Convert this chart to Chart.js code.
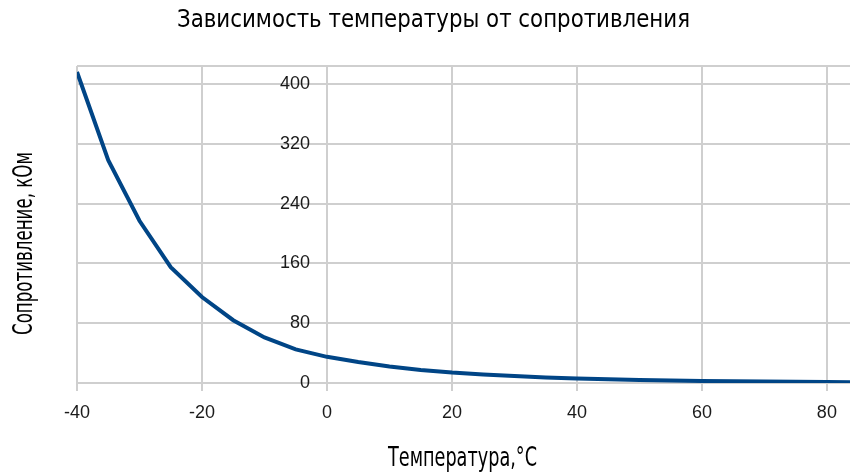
<!DOCTYPE html>
<html>
<head>
<meta charset="utf-8">
<script src="https://cdn.jsdelivr.net/npm/chart.js@4"></script>
<style>
  html, body { margin: 0; padding: 0; background: #ffffff; overflow: hidden; }
  canvas { display: block; }
</style>
</head>
<body>
<canvas id="c" width="850" height="475"></canvas>
<script>
// ---- data ----
const chartTitle = 'Зависимость температуры от сопротивления';
const xTitle = 'Температура,°C';
const yTitle = 'Сопротивление, кОм';
const temperatures = [-40, -35, -30, -25, -20, -15, -10, -5, 0, 5, 10, 15, 20, 25, 30, 35, 40, 45, 50, 55, 60, 65, 70, 75, 80, 85];
const resistances  = [416, 298, 217, 155, 115, 84, 61, 45, 35, 28, 22, 17.5, 14, 11.5, 9.2, 7.5, 6.0, 5.0, 4.1, 3.4, 2.8, 2.3, 1.9, 1.6, 1.3, 1.1];
const xTickValues = [-40, -20, 0, 20, 40, 60, 80];
const yTickValues = [0, 80, 160, 240, 320, 400];

const narrowFont = "'DejaVu Sans Condensed', 'Liberation Sans Narrow', sans-serif";
const tickFont = "'Liberation Sans', Arial, sans-serif";
const gridColor = '#cfcfcf';

const points = temperatures.map((t, i) => ({ x: t, y: resistances[i] }));

// draws a text squeezed horizontally to a target width (narrow drafting-style lettering)
function drawNarrow(ctx, text, size, cx, baseY, targetWidth, rotate) {
  ctx.save();
  ctx.font = size + 'px ' + narrowFont;
  const w = ctx.measureText(text).width;
  const sx = Math.min(1, targetWidth / w);
  ctx.translate(cx, baseY);
  if (rotate) ctx.rotate(-Math.PI / 2);
  ctx.scale(sx, 1);
  ctx.fillStyle = '#000000';
  ctx.textAlign = 'center';
  ctx.textBaseline = 'alphabetic';
  ctx.fillText(text, 0, 0);
  ctx.restore();
}

const titlesPlugin = {
  id: 'titlesPlugin',
  afterDraw(chart) {
    const ctx = chart.ctx;
    drawNarrow(ctx, chartTitle, 25, 433.5, 26.5, 513, false);
    drawNarrow(ctx, xTitle, 27, 462.5, 466, 149, false);
    drawNarrow(ctx, yTitle, 27, 31.5, 243.5, 183, true);
  }
};

new Chart(document.getElementById('c'), {
  type: 'line',
  data: {
    datasets: [{
      data: points,
      borderColor: '#004586',
      backgroundColor: '#004586',
      borderWidth: 4,
      pointRadius: 0,
      tension: 0,
      fill: false
    }]
  },
  options: {
    responsive: false,
    animation: false,
    events: [],
    layout: { padding: { left: 77, right: 0, top: 66, bottom: 40.4 } },
    plugins: {
      legend: { display: false },
      tooltip: { enabled: false },
      title: { display: false }
    },
    scales: {
      x: {
        type: 'linear',
        position: 'bottom',
        min: -40,
        max: 83.7,
        afterBuildTicks(scale) { scale.ticks = xTickValues.map(v => ({ value: v })); },
        ticks: {
          color: '#1a1a1a',
          font: { family: tickFont, size: 18, lineHeight: 1.2 },
          padding: 11,
          maxRotation: 0,
          autoSkip: false,
          includeBounds: false
        },
        grid: { color: gridColor, lineWidth: 2, tickLength: 8, drawTicks: true },
        border: { display: true, color: gridColor, width: 2 }
      },
      y: {
        type: 'linear',
        position: { x: 0 },
        min: 0,
        max: 424,
        afterBuildTicks(scale) { scale.ticks = yTickValues.concat([424]).map(v => ({ value: v })); },
        ticks: { display: false },
        grid: { color: gridColor, lineWidth: 2, tickLength: 8, drawTicks: true },
        border: { display: true, color: gridColor, width: 2 }
      },
      yLabels: {
        type: 'linear',
        position: { x: -2.72 },
        min: 0,
        max: 424,
        afterBuildTicks(scale) { scale.ticks = yTickValues.map(v => ({ value: v })); },
        ticks: {
          color: '#1a1a1a',
          font: { family: tickFont, size: 18, lineHeight: 1.2 },
          padding: 0,
          autoSkip: false
        },
        grid: { display: false, drawTicks: false, tickLength: 0 },
        border: { display: false }
      }
    }
  },
  plugins: [titlesPlugin]
});
</script>
</body>
</html>
